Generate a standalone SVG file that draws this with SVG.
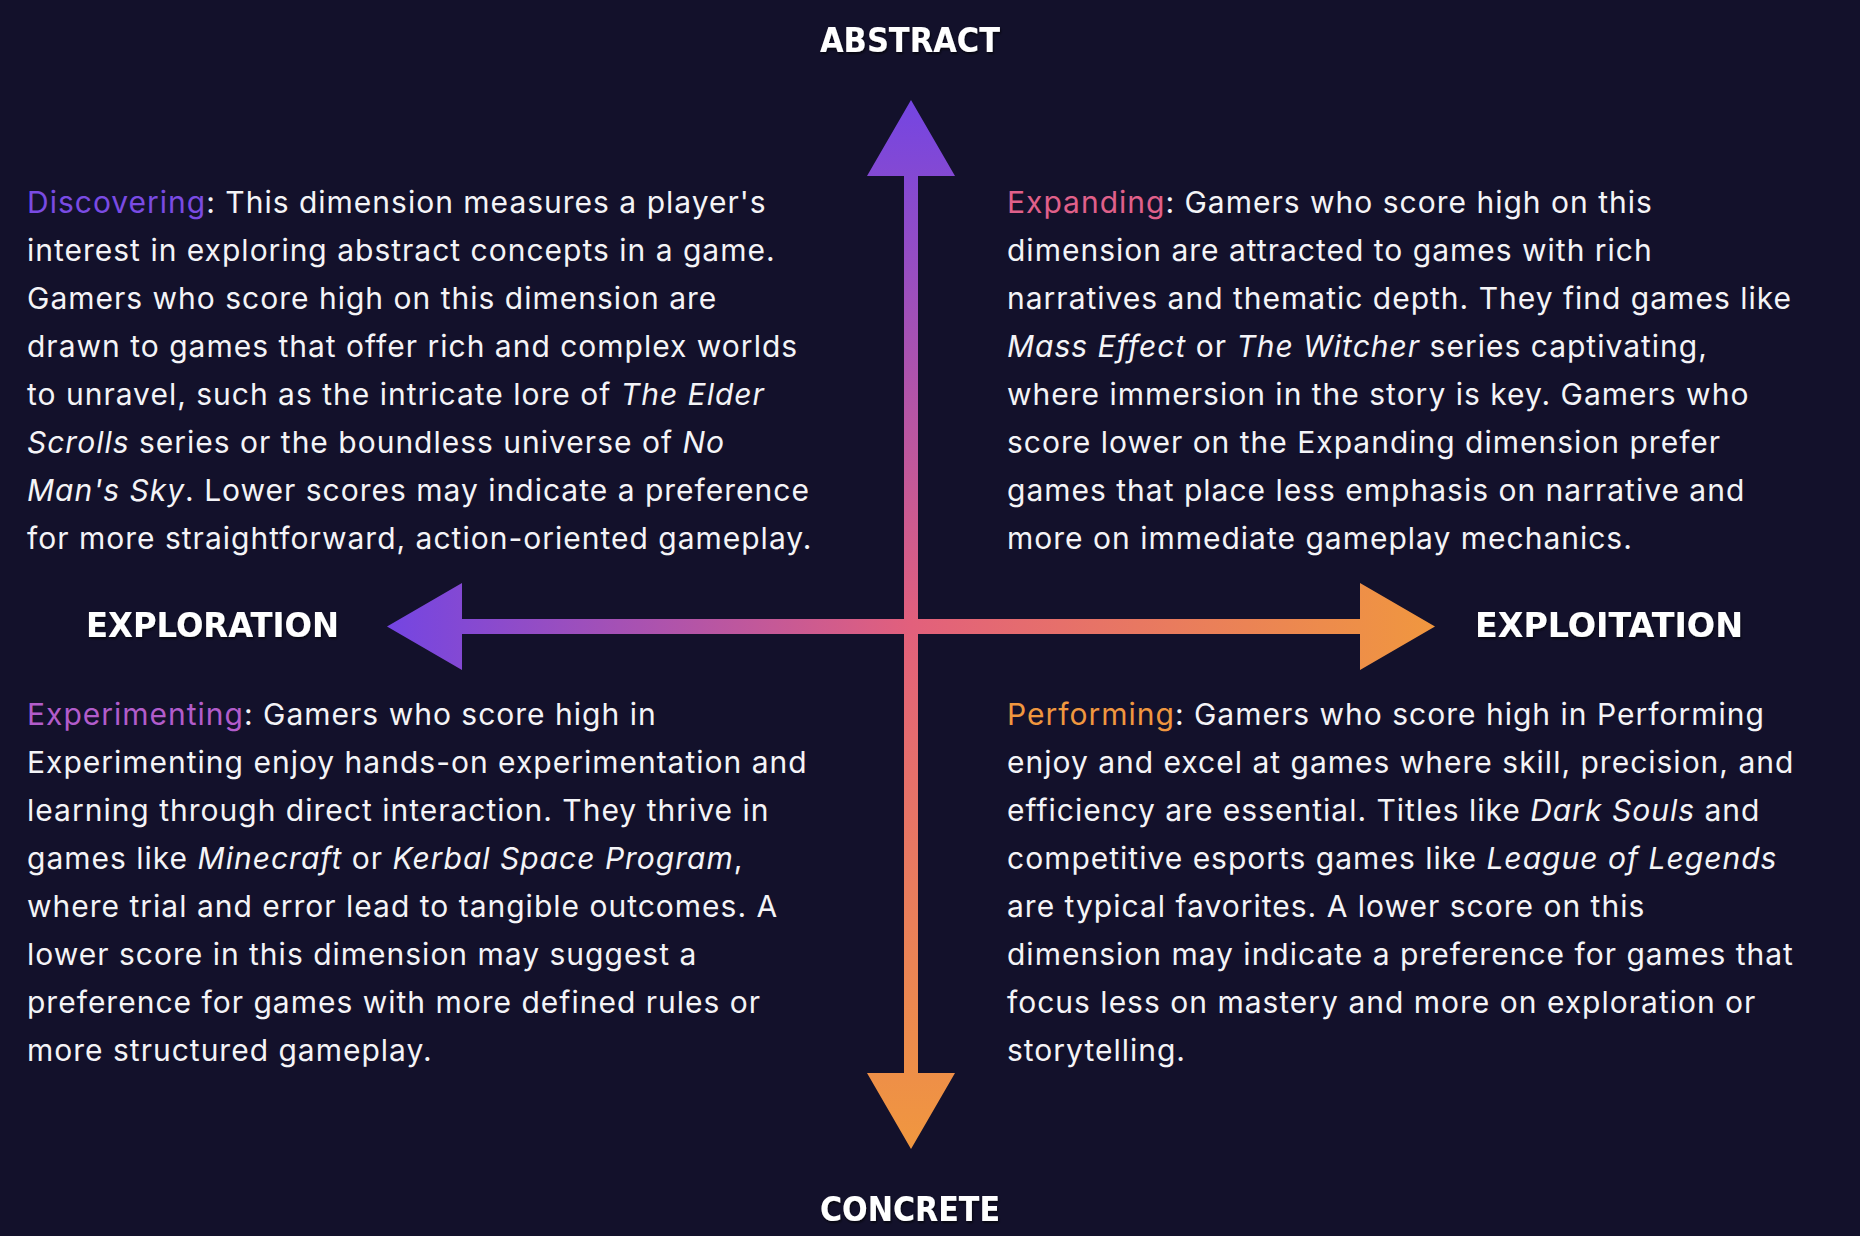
<svg xmlns="http://www.w3.org/2000/svg" width="1860" height="1236" viewBox="0 0 1860 1236">
  <style>
    .body { font-family: Inter, "Noto Sans", "Liberation Sans", sans-serif; font-size: 30px; letter-spacing: 1px; fill: #f4f4f7; }
    .i { font-style: italic; }
    .discover { fill: #7a4be3; }
    .expand { fill: #e0608a; }
    .experiment { fill: #b25ccb; }
    .perform { fill: #f0973f; }
    .axis { font-family: "DejaVu Sans", "Liberation Sans", sans-serif; font-weight: bold; font-size: 33px; fill: #ffffff; filter: url(#shadow); }
  </style>
  <defs>
    <linearGradient id="gradV" gradientUnits="userSpaceOnUse" x1="0" y1="100" x2="0" y2="1149">
      <stop offset="0" stop-color="#7445e2"/>
      <stop offset="0.5" stop-color="#e2607c"/>
      <stop offset="1" stop-color="#f0973f"/>
    </linearGradient>
    <linearGradient id="gradH" gradientUnits="userSpaceOnUse" x1="387" y1="0" x2="1435" y2="0">
      <stop offset="0" stop-color="#7445e2"/>
      <stop offset="0.5" stop-color="#e2607c"/>
      <stop offset="1" stop-color="#f0973f"/>
    </linearGradient>
    <filter id="shadow" x="-10%" y="-30%" width="120%" height="160%">
      <feDropShadow dx="1" dy="2" stdDeviation="1" flood-color="#000000" flood-opacity="0.6"/>
    </filter>
  </defs>

  <rect width="1860" height="1236" fill="#13112b"/>

  <!-- axes: double-headed arrows crossing at the centre -->
  <g id="connectors">
    <path id="axis-vertical" fill="url(#gradV)"
      d="M911 100 L955 176 L918 176 L918 1073 L955 1073 L911 1149 L867 1073 L904 1073 L904 176 L867 176 Z"/>
    <path id="axis-horizontal" fill="url(#gradH)"
      d="M387 626.5 L462 583 L462 619 L1360 619 L1360 583 L1435 626.5 L1360 670 L1360 634 L462 634 L462 670 Z"/>
  </g>

  <!-- axis end labels -->
  <g id="label-abstract"><text class="axis" x="820" y="52" textLength="180" lengthAdjust="spacingAndGlyphs">ABSTRACT</text></g>
  <g id="label-concrete"><text class="axis" x="820" y="1221" textLength="180" lengthAdjust="spacingAndGlyphs">CONCRETE</text></g>
  <g id="label-exploration"><text class="axis" x="86" y="637" textLength="253" lengthAdjust="spacingAndGlyphs">EXPLORATION</text></g>
  <g id="label-exploitation"><text class="axis" x="1475" y="637" textLength="268" lengthAdjust="spacingAndGlyphs">EXPLOITATION</text></g>

  <!-- quadrant descriptions -->
  <g id="discovering" class="body">
    <text x="27" y="213"><tspan class="discover">Discovering</tspan>: This dimension measures a player's</text>
    <text x="27" y="261">interest in exploring abstract concepts in a game.</text>
    <text x="27" y="309">Gamers who score high on this dimension are</text>
    <text x="27" y="357">drawn to games that offer rich and complex worlds</text>
    <text x="27" y="405">to unravel, such as the intricate lore of <tspan class="i">The Elder</tspan></text>
    <text x="27" y="453"><tspan class="i">Scrolls</tspan> series or the boundless universe of <tspan class="i">No</tspan></text>
    <text x="27" y="501"><tspan class="i">Man's Sky</tspan>. Lower scores may indicate a preference</text>
    <text x="27" y="549">for more straightforward, action-oriented gameplay.</text>
  </g>

  <g id="expanding" class="body">
    <text x="1007" y="213"><tspan class="expand">Expanding</tspan>: Gamers who score high on this</text>
    <text x="1007" y="261">dimension are attracted to games with rich</text>
    <text x="1007" y="309">narratives and thematic depth. They find games like</text>
    <text x="1007" y="357"><tspan class="i">Mass Effect</tspan> or <tspan class="i">The Witcher</tspan> series captivating,</text>
    <text x="1007" y="405">where immersion in the story is key. Gamers who</text>
    <text x="1007" y="453">score lower on the Expanding dimension prefer</text>
    <text x="1007" y="501">games that place less emphasis on narrative and</text>
    <text x="1007" y="549">more on immediate gameplay mechanics.</text>
  </g>

  <g id="experimenting" class="body">
    <text x="27" y="725"><tspan class="experiment">Experimenting</tspan>: Gamers who score high in</text>
    <text x="27" y="773">Experimenting enjoy hands-on experimentation and</text>
    <text x="27" y="821">learning through direct interaction. They thrive in</text>
    <text x="27" y="869">games like <tspan class="i">Minecraft</tspan> or <tspan class="i">Kerbal Space Program</tspan>,</text>
    <text x="27" y="917">where trial and error lead to tangible outcomes. A</text>
    <text x="27" y="965">lower score in this dimension may suggest a</text>
    <text x="27" y="1013">preference for games with more defined rules or</text>
    <text x="27" y="1061">more structured gameplay.</text>
  </g>

  <g id="performing" class="body">
    <text x="1007" y="725"><tspan class="perform">Performing</tspan>: Gamers who score high in Performing</text>
    <text x="1007" y="773">enjoy and excel at games where skill, precision, and</text>
    <text x="1007" y="821">efficiency are essential. Titles like <tspan class="i">Dark Souls</tspan> and</text>
    <text x="1007" y="869">competitive esports games like <tspan class="i">League of Legends</tspan></text>
    <text x="1007" y="917">are typical favorites. A lower score on this</text>
    <text x="1007" y="965">dimension may indicate a preference for games that</text>
    <text x="1007" y="1013">focus less on mastery and more on exploration or</text>
    <text x="1007" y="1061">storytelling.</text>
  </g>
</svg>
